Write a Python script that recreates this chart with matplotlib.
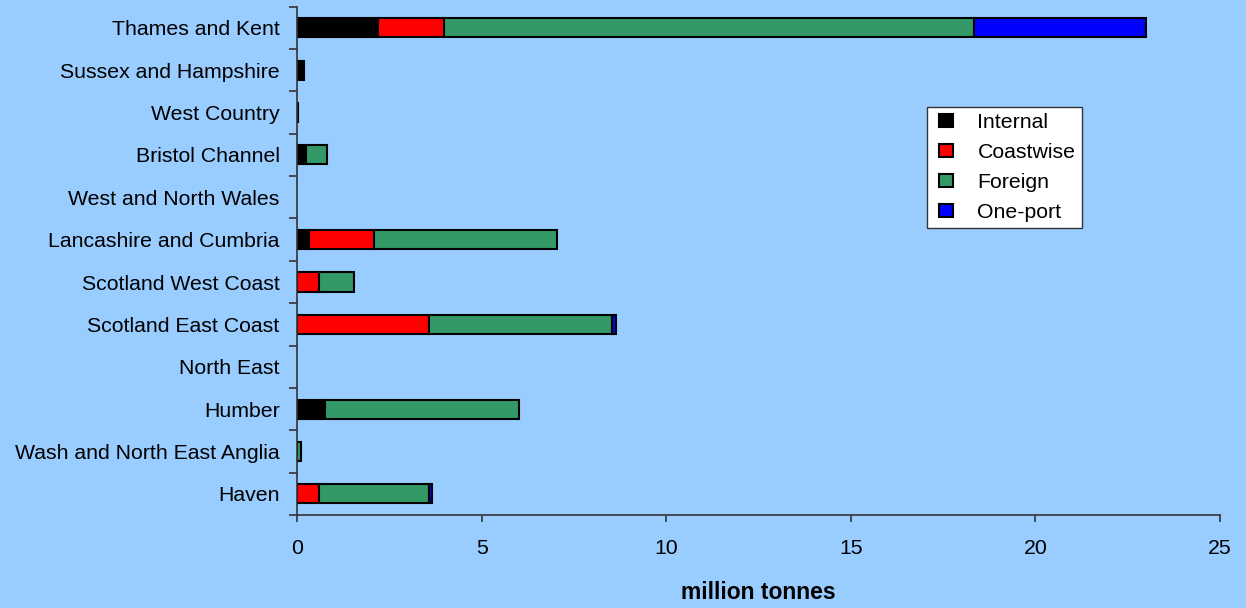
import matplotlib
matplotlib.use("Agg")
import matplotlib.pyplot as plt
from matplotlib.patches import Patch, Rectangle
from matplotlib.legend_handler import HandlerPatch
import numpy as np

plt.rcParams['font.family'] = ['Liberation Sans', 'DejaVu Sans']

regions = ["Thames and Kent", "Sussex and Hampshire", "West Country", "Bristol Channel",
           "West and North Wales", "Lancashire and Cumbria", "Scotland West Coast",
           "Scotland East Coast", "North East", "Humber", "Wash and North East Anglia", "Haven"]
internal  = [2.20, 0.20, 0.03, 0.24, 0.0, 0.32, 0.0, 0.0, 0.0, 0.76, 0.0, 0.0]
coastwise = [1.79, 0.0, 0.0, 0.0, 0.0, 1.76, 0.60, 3.58, 0.0, 0.0, 0.0, 0.60]
foreign   = [14.36, 0.0, 0.0, 0.56, 0.0, 4.95, 0.93, 4.94, 0.0, 5.25, 0.11, 2.98]
oneport   = [4.66, 0.0, 0.0, 0.0, 0.0, 0.0, 0.0, 0.11, 0.0, 0.0, 0.0, 0.08]

series = [("Internal", internal, "#000000"),
          ("Coastwise", coastwise, "#FF0000"),
          ("Foreign", foreign, "#339966"),
          ("One-port", oneport, "#0000FF")]

bg = "#99CCFF"
fs = 15.3
fig = plt.figure(figsize=(12.46, 6.08), dpi=100, facecolor=bg)
ax = fig.add_axes([0.2384, 0.153, 0.9791 - 0.2384, 0.989 - 0.153])
ax.set_facecolor(bg)

y = np.arange(len(regions))
left = np.zeros(len(regions))
for name, vals, col in series:
    v = np.array(vals)
    m = v > 0
    ax.barh(y[m], v[m], left=left[m], height=0.45, color=col, edgecolor="black",
            linewidth=1.5, label=name)
    left += v

ax.set_xlim(0, 25)
ax.set_ylim(len(regions) - 0.5, -0.5)
ax.set_xticks([0, 5, 10, 15, 20, 25])
ax.set_yticks(y)
ax.set_yticklabels(regions, fontsize=fs)
ax.set_yticks(np.arange(-0.5, len(regions)), minor=True)
ax.tick_params(axis='y', which='major', length=0, pad=12.5)
ax.tick_params(axis='y', which='minor', length=6, width=1.2, color="#333333", direction='out')
ax.tick_params(axis='x', which='major', length=5, width=1.2, color="#333333", labelsize=fs, pad=12)

for s in ["top", "right"]:
    ax.spines[s].set_visible(False)
for s in ["left", "bottom"]:
    ax.spines[s].set_color("#333333")
    ax.spines[s].set_linewidth(1.2)

ax.set_xlabel("million tonnes", fontsize=16.5, fontweight="bold", labelpad=17)


def square(legend, orig_handle, xdescent, ydescent, width, height, fontsize):
    side = 0.66 * fontsize * 100 / 72 * 72 / 100  # in points, matches handle box units
    side = 0.62 * fontsize
    x0 = -xdescent + 0.28 * fontsize
    y0 = -ydescent + (height - side) / 2
    return Rectangle((x0, y0), side, side)


handles = [Patch(facecolor=c, edgecolor="black", linewidth=1.5, label=n) for n, _, c in series]
leg = ax.legend(handles=handles, loc="upper left", bbox_to_anchor=(0.6826, 0.803),
                fontsize=fs, frameon=True, fancybox=False, edgecolor="#333333", framealpha=1,
                handlelength=1.3, handleheight=0.6, handletextpad=0.77, labelspacing=0.51,
                borderpad=0.3, borderaxespad=0,
                handler_map={Patch: HandlerPatch(patch_func=square)})
leg.get_frame().set_linewidth(1.0)
leg.get_frame().set_facecolor("white")

fig.savefig("out.png", dpi=100, facecolor=bg)
